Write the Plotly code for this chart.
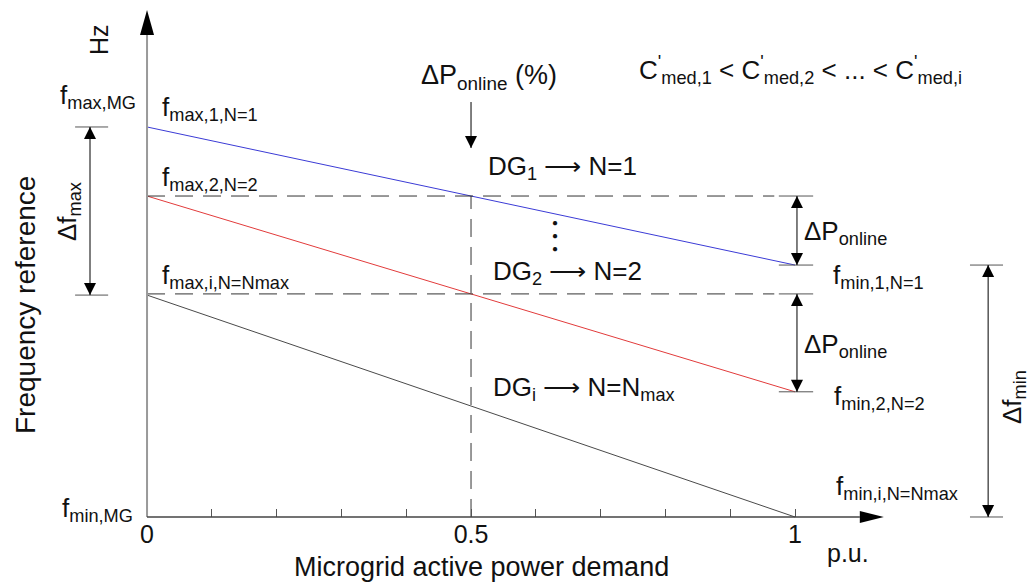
import plotly.graph_objects as go

# ---- data -------------------------------------------------------------
# per-unit microgrid active power demand at both ends of every droop line
p_demand = [0.0, 1.0]
# normalised frequency reference of each generator's droop line (p = 0, p = 1)
f_dg1 = [1.000, 0.646]
f_dg2 = [0.823, 0.321]
f_dgi = [0.569, 0.000]
# share of online power at which the next generator is switched in
p_online = 0.5

x_tick_vals = [0.0, 0.5, 1.0]
x_tick_text = ["0", "0.5", "1"]
x_minor_vals = [0.1, 0.2, 0.3, 0.4, 0.6, 0.7, 0.8, 0.9]

# ---- canvas ------------------------------------------------------------
W, H = 1032, 582
X_RANGE = [-0.2269, 1.3657]
Y_RANGE = [-0.1667, 1.3256]
FONT = "Liberation Sans, Arial, sans-serif"
INK = "#111111"
GUIDE = "#555555"


def level(line, p):
    """Frequency of a straight droop line at demand p."""
    return line[0] + (line[1] - line[0]) * (p - p_demand[0]) / (p_demand[1] - p_demand[0])


lvl1 = level(f_dg1, p_online)
lvl2 = level(f_dg2, p_online)

fig = go.Figure()

# droop lines of the generators
for f, col in ((f_dg1, "#3b3bd6"), (f_dg2, "#e23b3b"), (f_dgi, "#4a4a4a")):
    fig.add_trace(go.Scatter(x=p_demand, y=f, mode="lines",
                             line=dict(color=col, width=1), hoverinfo="skip"))

# dashed switching guides
dash_end = 0.968
for lv in (lvl1, lvl2):
    fig.add_trace(go.Scatter(x=[0, dash_end], y=[lv, lv], mode="lines",
                             line=dict(color="#333333", width=1, dash="18px,10px"),
                             hoverinfo="skip"))
fig.add_trace(go.Scatter(x=[p_online, p_online], y=[0, lvl1], mode="lines",
                         line=dict(color="#333333", width=1, dash="18px,10px"),
                         hoverinfo="skip"))

shapes = []


def tick(y, x0, x1):
    shapes.append(dict(type="line", xref="x", yref="y", x0=x0, x1=x1, y0=y, y1=y,
                       line=dict(color=GUIDE, width=1)))


def head(x, y, path):
    """Filled arrow head whose tip sits at (x, y); path given in pixels."""
    shapes.append(dict(type="path", xref="x", yref="y", xsizemode="pixel",
                       ysizemode="pixel", xanchor=x, yanchor=y, path=path,
                       fillcolor="#000000", line=dict(width=0)))


UP = "M0,0 L-6,-12 L6,-12 Z"
DOWN = "M0,0 L-6,12 L6,12 Z"


def dim_arrow(x, y_top, y_bot, both=True):
    shapes.append(dict(type="line", xref="x", yref="y", x0=x, x1=x, y0=y_top, y1=y_bot,
                       line=dict(color="#000000", width=1)))
    head(x, y_bot, DOWN)
    if both:
        head(x, y_top, UP)


# short end marks for the dimension arrows
for y in (f_dg1[0], f_dgi[0]):
    tick(y, -0.111, -0.060)
for y in (lvl1, f_dg1[1], lvl2, f_dg2[1]):
    tick(y, 0.975, 1.028)
for y in (f_dg1[1], f_dgi[1]):
    tick(y, 1.270, 1.321)

dim_arrow(-0.088, f_dg1[0], f_dgi[0])
dim_arrow(1.003, lvl1, f_dg1[1])
dim_arrow(1.003, lvl2, f_dg2[1])
dim_arrow(1.298, f_dg1[1], f_dgi[1])
dim_arrow(p_online, 1.064, 0.946, both=False)

# axes with arrow tips
y_tip, x_tip = 1.300, 1.137
shapes.append(dict(type="line", xref="x", yref="y", x0=0, x1=0, y0=0, y1=1.25,
                   line=dict(color="#9a9a9a", width=2)))
shapes.append(dict(type="line", xref="x", yref="y", x0=0, x1=1.10, y0=0, y1=0,
                   line=dict(color="#444444", width=1.5)))
head(0, y_tip, "M0,0 L-7,-25 L7,-25 Z")
head(x_tip, 0, "M0,0 L-24,6 L-24,-6 Z")

annotations = []


def label(text, px, py, size=26, anchor="center", angle=0):
    annotations.append(dict(
        xref="paper", yref="paper", x=px / W, y=1 - py / H, text=text,
        showarrow=False, xanchor=anchor, yanchor="middle", textangle=angle,
        font=dict(family=FONT, size=size, color=INK)))


label("Hz", 99, 40, 25, angle=-90)
label("f<sub>max,MG</sub>", 98, 97)
label("f<sub>min,MG</sub>", 97, 509)
label("f<sub>max,1,N=1</sub>", 160, 108, anchor="left")
label("f<sub>max,2,N=2</sub>", 160, 178, anchor="left")
label("f<sub>max,i,N=Nmax</sub>", 160, 276, anchor="left")
label("Δf<sub>max</sub>", 68, 212, angle=-90)
label("Frequency reference", 25, 305, 28, angle=-90)
label("Microgrid active power demand", 481, 567, 27)
label("p.u.", 848, 553, 25)
label("ΔP<sub>online</sub> (%)", 489, 77, 27)
label("C<sup>'</sup><sub>med,1</sub> &lt; C<sup>'</sup><sub>med,2</sub> &lt; ... &lt; "
      "C<sup>'</sup><sub>med,i</sub>", 800, 70, 26)
label("DG<sub>1</sub> ⟶ N=1", 562, 167, 26)
label("DG<sub>2</sub> ⟶ N=2", 567, 272, 26)
label("DG<sub>i</sub> ⟶ N=N<sub>max</sub>", 584, 388, 26)
label("ΔP<sub>online</sub>", 802, 232, 26, anchor="left")
label("ΔP<sub>online</sub>", 802, 345, 26, anchor="left")
label("f<sub>min,1,N=1</sub>", 831, 276, anchor="left")
label("f<sub>min,2,N=2</sub>", 832, 397, anchor="left")
label("f<sub>min,i,N=Nmax</sub>", 834, 487, anchor="left")
label("Δf<sub>min</sub>", 1013, 397, angle=-90)
label("<b>●<br>●<br>●</b>", 555, 235, 10)

fig.update_layout(
    width=W, height=H,
    margin=dict(l=0, r=0, t=0, b=0),
    paper_bgcolor="white", plot_bgcolor="white",
    showlegend=False,
    shapes=shapes, annotations=annotations,
    font=dict(family=FONT, color=INK),
    xaxis=dict(range=X_RANGE, domain=[0, 1], anchor="free", position=65 / H,
               showgrid=False, zeroline=False, showline=False,
               tickmode="array", tickvals=x_tick_vals, ticktext=x_tick_text,
               ticks="inside", ticklen=8, tickwidth=1, tickcolor=GUIDE,
               minor=dict(tickmode="array", tickvals=x_minor_vals, ticks="inside",
                          ticklen=8, tickwidth=1, tickcolor=GUIDE, showgrid=False),
               tickfont=dict(family=FONT, size=25, color=INK)),
    yaxis=dict(range=Y_RANGE, domain=[0, 1], visible=False),
)

fig.write_html("out.html")
